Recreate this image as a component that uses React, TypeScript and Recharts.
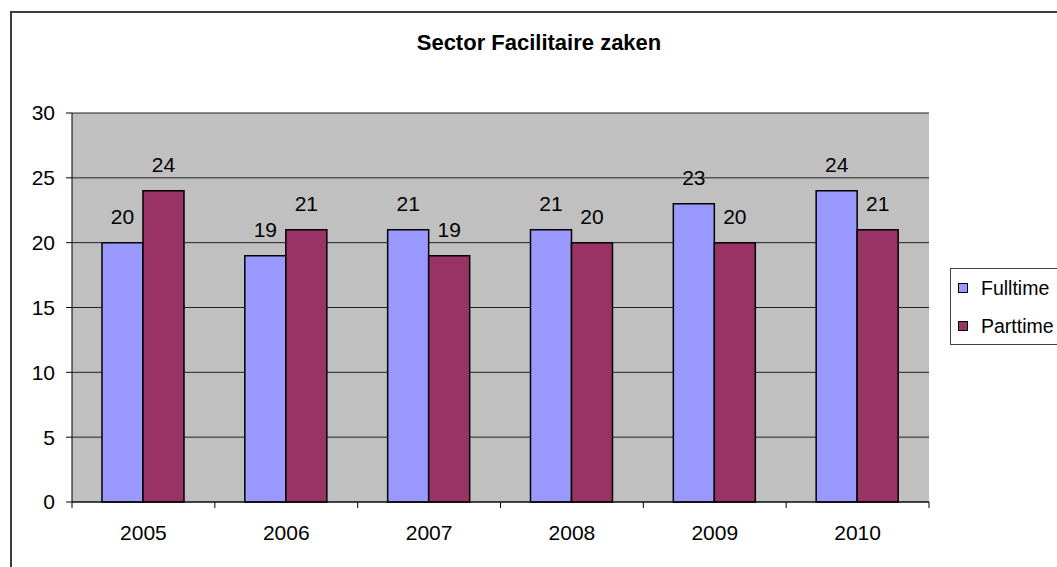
import React from "react";
import { Bar, BarChart, CartesianGrid, LabelList, XAxis, YAxis } from "recharts";

const years = ["2005", "2006", "2007", "2008", "2009", "2010"];
const fulltime = [20, 19, 21, 21, 23, 24];
const parttime = [24, 21, 19, 20, 20, 21];
const yTicks = [0, 5, 10, 15, 20, 25, 30];

const data = years.map((year, i) => ({ year, Fulltime: fulltime[i], Parttime: parttime[i] }));

const FONT = "'Liberation Sans', Arial, sans-serif";
const BLUE = "#9999FF";
const PLUM = "#993366";

const PLOT_LEFT = 72;
const PLOT_RIGHT = 929;
const BAND = (PLOT_RIGHT - PLOT_LEFT) / years.length;

function YearTick(props: any) {
  const { x, y, payload, index } = props;
  const left = x - BAND / 2;
  return (
    <g>
      <line x1={left} x2={left} y1={y} y2={y + 6} stroke="#000" />
      {index === years.length - 1 && <line x1={x + BAND / 2} x2={x + BAND / 2} y1={y} y2={y + 6} stroke="#000" />}
      <text x={x} y={y + 38} textAnchor="middle" fontSize={21} fontFamily={FONT} fill="#000">
        {payload.value}
      </text>
    </g>
  );
}

function LegendBox() {
  const items = [
    { label: "Fulltime", color: BLUE },
    { label: "Parttime", color: PLUM },
  ];
  return (
    <div
      style={{
        position: "absolute",
        left: 950,
        top: 268,
        width: 130,
        height: 75,
        border: "1px solid #404040",
        background: "#fff",
        fontFamily: FONT,
        fontSize: 19.5,
        color: "#000",
      }}
    >
      {items.map((item, i) => (
        <div key={item.label} style={{ position: "absolute", left: 7, top: 7 + i * 38, display: "flex", alignItems: "center", height: 24 }}>
          <span style={{ display: "inline-block", width: 8, height: 8, background: item.color, border: "1px solid #000", marginRight: 13 }} />
          <span>{item.label}</span>
        </div>
      ))}
    </div>
  );
}

export default function App() {
  return (
    <div style={{ position: "fixed", left: 0, top: 0, width: 1057, height: 567, overflow: "hidden", background: "#fff" }}>
      <div style={{ position: "absolute", left: 10, top: 11, width: 1100, height: 620, border: "2px solid #3c3c3c" }} />
      <div
        style={{
          position: "absolute",
          left: 539,
          top: 30,
          transform: "translateX(-50%)",
          fontFamily: FONT,
          fontWeight: "bold",
          fontSize: 22,
          whiteSpace: "nowrap",
          color: "#000",
        }}
      >
        Sector Facilitaire zaken
      </div>
      <div style={{ position: "absolute", left: 0, top: 0 }}>
        <BarChart
          width={1057}
          height={567}
          data={data}
          margin={{ top: 113, right: 1057 - PLOT_RIGHT, bottom: 0, left: 0 }}
          barCategoryGap="21%"
          barGap={0}
        >
          <CartesianGrid vertical={false} fill="#C0C0C0" stroke="#222" horizontalValues={yTicks} />
          <XAxis
            dataKey="year"
            height={65}
            axisLine={{ stroke: "#000" }}
            tickLine={false}
            tickSize={0}
            tickMargin={0}
            interval={0}
            tick={<YearTick />}
          />
          <XAxis xAxisId="top" dataKey="year" orientation="top" height={0} tick={false} tickLine={false} axisLine={{ stroke: "#808080" }} />
          <YAxis
            domain={[0, 30]}
            ticks={yTicks}
            width={PLOT_LEFT}
            axisLine={{ stroke: "#000" }}
            tickLine={{ stroke: "#000" }}
            tickSize={6}
            tickMargin={11}
            tick={{ fontSize: 21, fontFamily: FONT, fill: "#000" }}
          />
          <YAxis yAxisId="right" orientation="right" width={0} domain={[0, 30]} tick={false} tickLine={false} axisLine={{ stroke: "#808080" }} />
          <Bar dataKey="Fulltime" fill={BLUE} stroke="#000" strokeWidth={1.5} isAnimationActive={false}>
            <LabelList dataKey="Fulltime" position="top" offset={19} fontSize={21} fontFamily={FONT} fill="#000" />
          </Bar>
          <Bar dataKey="Parttime" fill={PLUM} stroke="#000" strokeWidth={1.5} isAnimationActive={false}>
            <LabelList dataKey="Parttime" position="top" offset={19} fontSize={21} fontFamily={FONT} fill="#000" />
          </Bar>
        </BarChart>
      </div>
      <LegendBox />
    </div>
  );
}
